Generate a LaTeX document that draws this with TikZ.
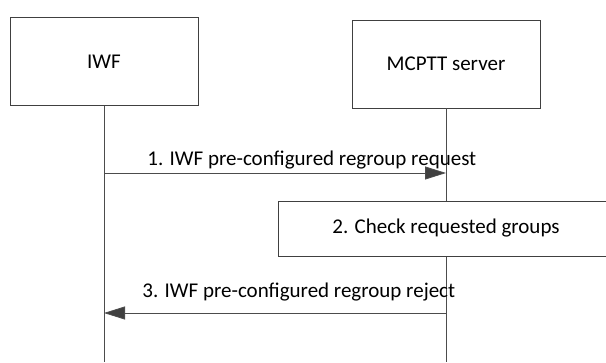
\documentclass[tikz,border=0pt]{standalone}
\usepackage{fontspec}
\setmainfont{Carlito}
\usetikzlibrary{arrows.meta,positioning}

\begin{document}
\begin{tikzpicture}[x=1pt,y=-1pt,
  entity/.style={draw=black!75,line width=0.8pt,fill=white,minimum width=188pt,minimum height=88pt,inner sep=0pt,font=\fontsize{21}{25}\selectfont},
  life/.style={draw=black!70,line width=0.8pt},
  msg/.style={draw=black!70,line width=0.8pt,-{Triangle[length=21pt,width=13pt,fill=black!75]}},
  msglabel/.style={inner sep=0pt,font=\fontsize{21}{25}\selectfont}]
\clip (0,0) rectangle (606,362);
\node[entity] (iwf) at (104,61.5) {IWF};
\node[entity] (mcptt) at (446,64) {MCPTT server};
\coordinate (iwfend) at (104,362);
\coordinate (mcpttend) at (446,362);
\draw[life] (iwf) -- (iwfend);
\draw[life] (mcptt) -- (mcpttend);

% 1. request
\coordinate (req-from) at (104,173);
\coordinate (req-to) at (446,173);
\draw[msg] (req-from) -- (req-to)
  node[msglabel,pos=0,anchor=base west,xshift=43pt,yshift=8pt] (reqlabel) {1. IWF pre-configured regroup request};

% 2. check
\node[entity,minimum width=336pt,minimum height=55pt] (check) at (446,228.5) {2. Check requested groups};

% 3. reject
\coordinate (rej-from) at (446,313);
\coordinate (rej-to) at (104,313);
\draw[msg] (rej-from) -- (rej-to)
  node[msglabel,pos=1,anchor=base west,xshift=38pt,yshift=16pt] (rejlabel) {3. IWF pre-configured regroup reject};
\end{tikzpicture}
\end{document}
